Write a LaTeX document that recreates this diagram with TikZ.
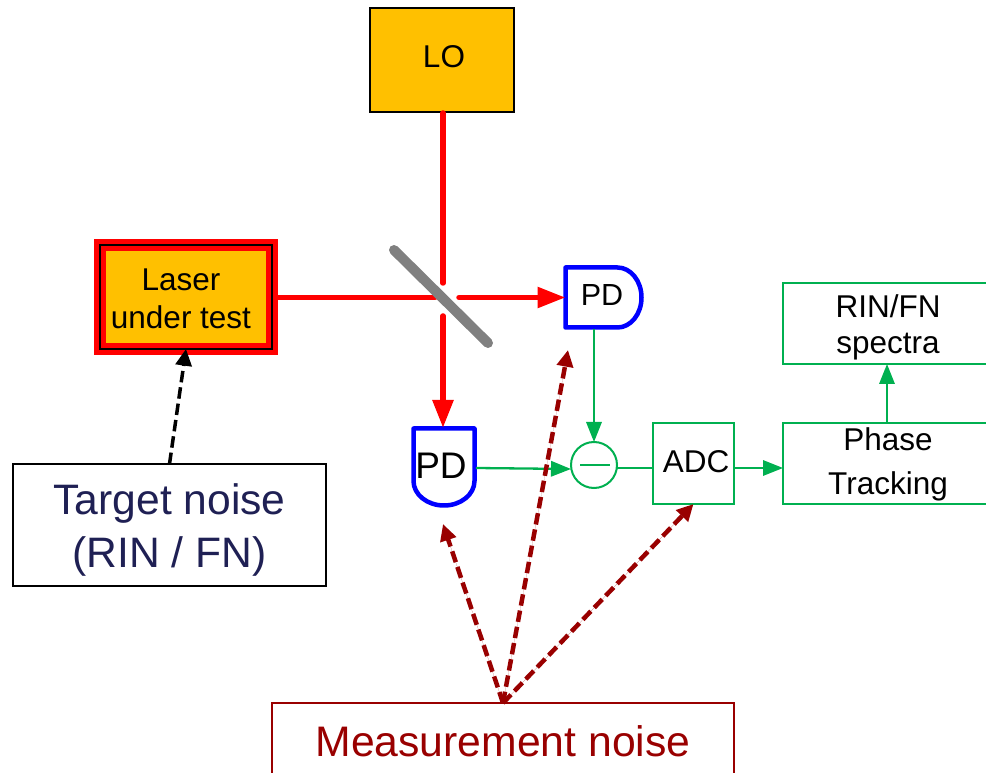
\documentclass[tikz,border=0pt]{standalone}
\usepackage{fontspec}
\setmainfont{Liberation Sans}
\usetikzlibrary{arrows.meta}

\newlength{\du}
\setlength{\du}{0.75pt}

\definecolor{amberfill}{rgb}{1.000000, 0.752941, 0.000000}
\definecolor{sigreen}{rgb}{0.000000, 0.690196, 0.313725}
\definecolor{noisered}{rgb}{0.600000, 0.000000, 0.000000}
\definecolor{targetnavy}{rgb}{0.121569, 0.125490, 0.329412}

\tikzset{
  box/.style={draw,outer sep=0pt,inner sep=0pt,align=center,line width=1.5\du},
  srcbox/.style={box,fill=amberfill},
  greenbox/.style={box,draw=sigreen,line width=2\du},
  lbl/.style={inner sep=0pt,align=center},
  txt/.style={lbl,font=\fontsize{31.5\du}{36\du}\selectfont},
  pdout/.style={draw=blue,line width=4.5\du,line join=round},
  beam/.style={draw=red,line width=5.5\du,line cap=round},
  beamtip/.style={beam,-{Triangle[length=21pt,width=15pt]}},
  sig/.style={draw=sigreen,line width=2.3\du,-{Triangle[length=15pt,width=11.5pt]}},
  noisearrow/.style={line width=4.5\du,dash pattern=on 11.5\du off 5\du,-{Triangle[length=12.5pt,width=12pt]}}
}

\begin{document}
\begin{tikzpicture}[x=\du,y=\du]
\pgftransformyscale{-1.000000}
\useasboundingbox (0,0) rectangle (986,773);
% sources
\node[srcbox,minimum width=144\du,minimum height=104\du] (lo) at (442,60){};
\node[txt] (lolabel) at (444,57){LO};
\node[srcbox,draw=red,line width=11.5\du,minimum width=172\du,minimum height=104\du] (laser) at (186,297){};
\node[txt,font=\fontsize{31.5\du}{38\du}\selectfont] (laserlabel) at (181,299){Laser\\under test};
% detectors
\node[minimum width=76\du,minimum height=60\du,outer sep=0pt,inner sep=0pt] (pdtop) at (603.5,297.5){};
\node[minimum width=61\du,minimum height=77\du,outer sep=0pt,inner sep=0pt] (pdbot) at (444,467){};
\draw[pdout] (pdtop.north west)--(617.5,267.5) arc[start angle=-90,end angle=90,x radius=24,y radius=30]--(pdtop.south west)--cycle;
\draw[pdout] (pdbot.north west)--(pdbot.north east)--(474.5,481) arc[start angle=0,end angle=180,x radius=30.5,y radius=24.5]--cycle;
\node[lbl,font=\fontsize{30.5\du}{32\du}\selectfont] (pdtoplabel) at (602,295){PD};
\node[lbl,font=\fontsize{37\du}{40\du}\selectfont] (pdbotlabel) at (441,466){PD};
% processing
\node[circle,draw=sigreen,line width=2\du,minimum size=46\du,inner sep=0pt,outer sep=0pt] (sub) at (594,465){};
\node[greenbox,minimum width=81\du,minimum height=81\du] (adc) at (693.5,463.5){};
\node[txt] (adclabel) at (696,462){ADC};
\node[greenbox,minimum width=230\du,minimum height=81\du,anchor=west] (phase) at (783,463.5){};
\node[txt,font=\fontsize{31.5\du}{44\du}\selectfont] (phaselabel) at (888,464){Phase\\Tracking};
\node[greenbox,minimum width=230\du,minimum height=81\du,anchor=west] (spectra) at (783,323.5){};
\node[txt] (spectralabel) at (888,327){RIN/FN\\spectra};
% noise boxes
\node[box,minimum width=313\du,minimum height=122\du] (target) at (169.5,525){};
\node[lbl,text=targetnavy,font=\fontsize{42.6\du}{53\du}\selectfont] (targetlabel) at (169.5,530){Target noise\\(RIN / FN)};
\node[box,draw=noisered,minimum width=462\du,minimum height=90\du,anchor=north] (meas) at (503,703){};
\node[lbl,text=noisered,font=\fontsize{42.7\du}{50\du}\selectfont] (measlabel) at (503,741){Measurement noise};
% beams
\coordinate (laserout) at (278,297.5);
\coordinate (splitleft) at (435,297.5);
\coordinate (splitright) at (459,297.5);
\coordinate (splittop) at (443,283);
\coordinate (splitbot) at (443,316);
\coordinate (pdbottip) at (443,428);
\coordinate (lobeam) at (443,113);
\draw[beam] (laserout)--(splitleft);
\draw[beam] (lobeam)--(splittop);
\draw[beamtip] (splitright)--(pdtop.west);
\draw[beamtip] (splitbot)--(pdbottip);
% beam splitter
\coordinate (bsa) at (394,250);
\coordinate (bsb) at (488,343);
\draw[draw=gray,line width=10\du,line cap=round] (bsa)--(bsb);
% signal path
\coordinate (pdtopout) at (594,329);
\coordinate (pdbotout) at (476,468);
\coordinate (subin) at (571,469);
\coordinate (subout) at (617,468);
\coordinate (adcin) at (653,468);
\coordinate (adcout) at (734,468);
\coordinate (phasein) at (783,468);
\coordinate (phaseout) at (887,423);
\coordinate (spectrain) at (887,364);
\draw[sig] (pdtopout)--(sub.north);
\draw[sig] (pdbotout)--(subin);
\draw[sig,-] (subout)--(adcin);
\draw[sig] (adcout)--(phasein);
\draw[sig] (phaseout)--(spectrain);
\draw[draw=sigreen,line width=2\du] ([xshift=-14\du]sub.center)--([xshift=16\du]sub.center);
% noise arrows
\coordinate (pdtopnoise) at (568,350);
\coordinate (pdbotnoise) at (443,524);
\draw[noisearrow,line width=3.5\du] (target.north)--(laser.south);
\draw[noisearrow,draw=noisered,fill=noisered] (meas.north)--(pdbotnoise);
\draw[noisearrow,draw=noisered,fill=noisered] (meas.north)--(pdtopnoise);
\draw[noisearrow,draw=noisered,fill=noisered] (meas.north)--(adc.south);
% black frame of the laser
\draw[line width=2.5\du] (laser.north west) rectangle (laser.south east);
\end{tikzpicture}
\end{document}
